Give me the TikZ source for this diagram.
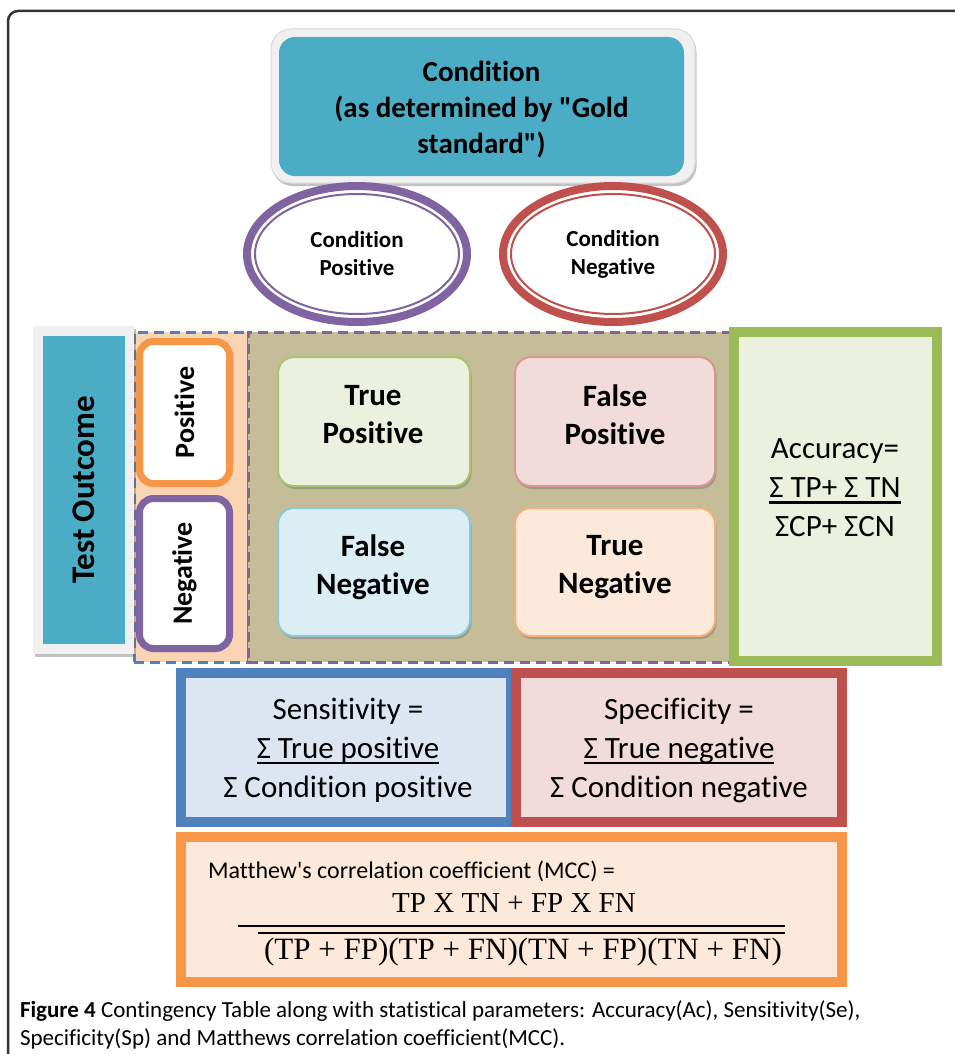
\documentclass[tikz,border=0pt]{standalone}
\usepackage{fontspec}
\setmainfont{Carlito}[Ligatures=NoCommon]
\newfontfamily\timesfont{Liberation Serif}
\usetikzlibrary{shapes.geometric,shadows}
\definecolor{cTeal}{HTML}{4BACC6}
\definecolor{cPurple}{HTML}{8064A2}
\definecolor{cRed}{HTML}{C0504D}
\definecolor{cBlue}{HTML}{4F81BD}
\definecolor{cOrange}{HTML}{F79646}
\definecolor{cGreen}{HTML}{9BBB59}
\definecolor{cTan}{HTML}{C4BD97}
\definecolor{cPeach}{HTML}{FBD4B4}
\definecolor{cAccFill}{HTML}{EBF1DE}
\definecolor{cSensFill}{HTML}{DCE6F2}
\definecolor{cSpecFill}{HTML}{F2DCDB}
\definecolor{cMccFill}{HTML}{FDE9D9}
\definecolor{cTPa}{HTML}{EBF1DE}\definecolor{cTPb}{HTML}{C3D69B}\definecolor{cTPd}{HTML}{A9C46E}
\definecolor{cFPa}{HTML}{F2DCDB}\definecolor{cFPb}{HTML}{D99694}\definecolor{cFPd}{HTML}{D99694}
\definecolor{cFNa}{HTML}{DAEEF3}\definecolor{cFNb}{HTML}{93CDDD}\definecolor{cFNd}{HTML}{8CC8DA}
\definecolor{cTNa}{HTML}{FDE9D9}\definecolor{cTNb}{HTML}{FAC090}\definecolor{cTNd}{HTML}{F8B07A}
\newcommand\sigul[1]{\setbox0\hbox{#1}\rlap{\rule[-6pt]{\wd0}{2.5pt}}\box0}
\newcommand\dq{\XeTeXglyph\XeTeXcharglyph"22\relax}
\newcommand\sq{\XeTeXglyph\XeTeXcharglyph"27\relax}
\begin{document}
\begin{tikzpicture}[x=1pt,y=-1pt,
  every node/.style={inner sep=0pt, outer sep=0pt, align=center},
  shadowed/.style={drop shadow={shadow xshift=1.5pt,shadow yshift=-3pt,opacity=0.4,fill=black!60}},
  cell/.style={rounded corners=16pt, line width=2pt, shadowed},
  celltext/.style={font=\fontsize{31}{38}\selectfont\bfseries},
  thickbox/.style={line width=10pt},
  ring/.style={ellipse, line width=8pt, fill=white, minimum width=220pt, minimum height=136pt, font=\fontsize{23}{28}\selectfont\bfseries},
  sidebox/.style={rounded corners=14pt, line width=7pt, fill=white, minimum width=90pt},
  dashedregion/.style={line width=3pt, dash pattern=on 10pt off 6pt},
  vtext/.style={rotate=90}
  ]
\useasboundingbox (0,0) rectangle (955,1054);
% outer frame
\draw[line width=2.5pt, black!80, rounded corners=10pt] (960,11) -- (8,11) -- (8,1060);

% top condition box
\node[rounded corners=20pt, fill=black!6, draw=black!15, line width=1pt, minimum width=424pt, minimum height=154pt, shadowed] (glow) at (483,106) {};
\node[rounded corners=16pt, fill=cTeal, minimum width=405pt, minimum height=139pt] (cond) at (481.5,106.5) {};
\node[font=\fontsize{29}{36}\selectfont\bfseries] (condlbl) at (481.5,110) {Condition\\(as determined by \dq Gold\\standard\dq)};

% regions
\node[fill=cPeach, draw=cBlue, dashedregion, minimum width=114pt, minimum height=330pt] (leftreg) at (191,497) {};
\node[fill=cTan, draw=cPurple, dashedregion, minimum width=485pt, minimum height=330pt] (mainreg) at (490.5,497) {};

% ellipses
\node[ring, draw=cPurple] (cp) at (357,254) {Condition\\Positive};
\draw[cPurple, line width=2pt] (cp.center) ellipse [x radius=102, y radius=60];
\node[ring, draw=cRed] (cn) at (613,254) {Condition\\Negative};
\draw[cRed, line width=2pt] (cn.center) ellipse [x radius=102, y radius=60];

% test outcome
\node[fill=black!6, minimum width=101pt, minimum height=328pt, shadowed] (testglow) at (83.5,490) {};
\node[fill=cTeal, minimum width=82pt, minimum height=308pt] (test) at (84,490) {};
\node[vtext, font=\fontsize{33}{38}\selectfont\bfseries] (testlbl) at (test.center) {Test Outcome};

% positive / negative
\node[sidebox, draw=cOrange, minimum height=142pt] (pos) at (184.5,412.5) {};
\node[vtext, font=\fontsize{28}{34}\selectfont\bfseries] (poslbl) at (pos.center) {Positive};
\node[sidebox, draw=cPurple, minimum height=150pt] (neg) at (184.5,573.5) {};
\node[vtext, font=\fontsize{28}{34}\selectfont\bfseries] (neglbl) at (neg.center) {Negative};

% cells
\node[cell, draw=cTPd, top color=cTPa, middle color=cTPb, bottom color=cTPa, shading angle=135, minimum width=192pt, minimum height=129pt] (tp) at (374,421.5) {};
\node[cell, draw=cFPd, top color=cFPa, middle color=cFPb, bottom color=cFPa, shading angle=135, minimum width=200pt, minimum height=129pt] (fp) at (615,421.5) {};
\node[cell, draw=cFNd, top color=cFNa, middle color=cFNb, bottom color=cFNa, shading angle=135, minimum width=192pt, minimum height=128pt] (fn) at (374,572) {};
\node[cell, draw=cTNd, top color=cTNa, middle color=cTNb, bottom color=cTNa, shading angle=135, minimum width=200pt, minimum height=128pt] (tn) at (615,572) {};
\node[celltext] (tplbl) at (373,415) {True\\Positive};
\node[celltext] (fplbl) at (615,415) {False\\Positive};
\node[celltext] (fnlbl) at (373,567) {False\\Negative};
\node[celltext] (tnlbl) at (615,567) {True\\Negative};

% accuracy
\node[thickbox, draw=cGreen, fill=cAccFill, minimum width=203pt, minimum height=329pt] (acc) at (835.5,496.5) {};
\node[font=\fontsize{31}{39}\selectfont] (acclbl) at (835,488) {Accuracy=\\\sigul{Σ TP+ Σ TN}\\ΣCP+ ΣCN};

% sensitivity / specificity
\node[thickbox, draw=cBlue, fill=cSensFill, minimum width=330pt, minimum height=149pt] (sens) at (346,747.5) {};
\node[thickbox, draw=cRed, fill=cSpecFill, minimum width=326pt, minimum height=149pt] (spec) at (679,747.5) {};
\node[font=\fontsize{31}{39}\selectfont] (senslbl) at (348,750) {Sensitivity =\\\sigul{Σ True positive}\\Σ Condition positive};
\node[font=\fontsize{31}{39}\selectfont] (speclbl) at (679,750) {Specificity =\\\sigul{Σ True negative}\\Σ Condition negative};

% MCC
\node[thickbox, draw=cOrange, fill=cMccFill, minimum width=661pt, minimum height=145pt] (mcc) at (511.5,909.5) {};
\node[anchor=west, font=\fontsize{24}{28}\selectfont] (mcclbl) at (208,871) {Matthew\sq s correlation coefficient (MCC) =};
\node[font=\fontsize{29}{32}\selectfont\timesfont] (num) at (514,903) {TP X TN + FP X FN};
\node[font=\fontsize{31}{34}\selectfont\timesfont] (den) at (523,952) {(TP + FP)(TP + FN)(TN + FP)(TN + FN)};
\draw[line width=2pt] (238,926) -- (785,926);
\draw[line width=1.5pt] (258,933) -- (785,933);

% caption
\node[anchor=west, font=\fontsize{23}{28}\selectfont] (cap1) at (20,1011) {\textbf{Figure 4} Contingency Table along with statistical parameters: Accuracy(Ac), Sensitivity(Se),};
\node[anchor=west, font=\fontsize{23}{28}\selectfont] (cap2) at (20,1039) {Specificity(Sp) and Matthews correlation coefficient(MCC).};
\end{tikzpicture}
\end{document}
